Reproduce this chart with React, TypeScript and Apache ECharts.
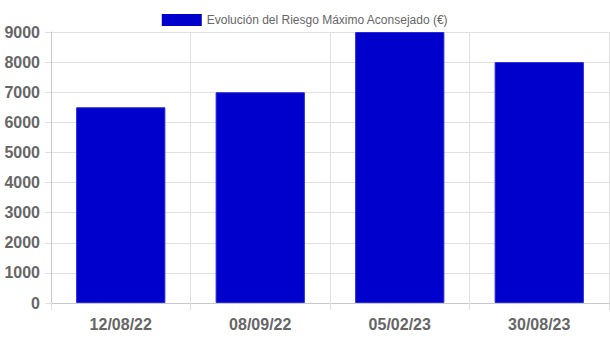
import React, { useEffect, useRef } from "react";
import * as echarts from "echarts";

const categories = ["12/08/22", "08/09/22", "05/02/23", "30/08/23"];
const values = [6500, 7000, 9000, 8000];
const seriesName = "Evolución del Riesgo Máximo Aconsejado (€)";
const FONT = "'Liberation Sans', Arial, Helvetica, sans-serif";

export default function App() {
  const ref = useRef<HTMLDivElement>(null);
  useEffect(() => {
    document.body.style.margin = "0";
    const chart = echarts.init(ref.current!, null, { renderer: "svg" });
    chart.setOption({
      animation: false,
      textStyle: { fontFamily: FONT },
      legend: {
        top: 9,
        left: "center",
        itemWidth: 40,
        itemHeight: 12,
        itemGap: 10,
        icon: "rect",
        itemStyle: { borderWidth: 0 },
        textStyle: { fontSize: 12, color: "#666", fontFamily: FONT },
        data: [seriesName],
      },
      grid: { left: 51, right: 1, top: 32, bottom: 36, containLabel: false },
      xAxis: {
        type: "category",
        data: categories,
        boundaryGap: true,
        axisLine: { show: true, lineStyle: { color: "#c8c8c8", width: 1 } },
        axisTick: { show: true, length: 7, lineStyle: { color: "#e0e0e0" } },
        splitLine: { show: true, lineStyle: { color: "#e0e0e0" } },
        axisLabel: { fontSize: 16, fontWeight: "bold", color: "#666", margin: 13, fontFamily: FONT },
      },
      yAxis: {
        type: "value",
        min: 0,
        max: 9000,
        interval: 1000,
        axisLine: { show: true, lineStyle: { color: "#c8c8c8", width: 1 } },
        axisTick: { show: true, length: 6, lineStyle: { color: "#e0e0e0" } },
        splitLine: { show: true, lineStyle: { color: "#e0e0e0" } },
        axisLabel: {
          fontSize: 16,
          fontWeight: "bold",
          color: "#666",
          margin: 11,
          fontFamily: FONT,
          formatter: (v: number) => String(v),
        },
      },
      series: [
        {
          name: seriesName,
          type: "bar",
          data: values,
          barCategoryGap: "36%",
          itemStyle: { color: "#0000cc", borderColor: "#2a2ad8", borderWidth: 1 },
        },
      ],
    });
    return () => chart.dispose();
  }, []);
  return <div ref={ref} style={{ width: 610, height: 339 }} />;
}
